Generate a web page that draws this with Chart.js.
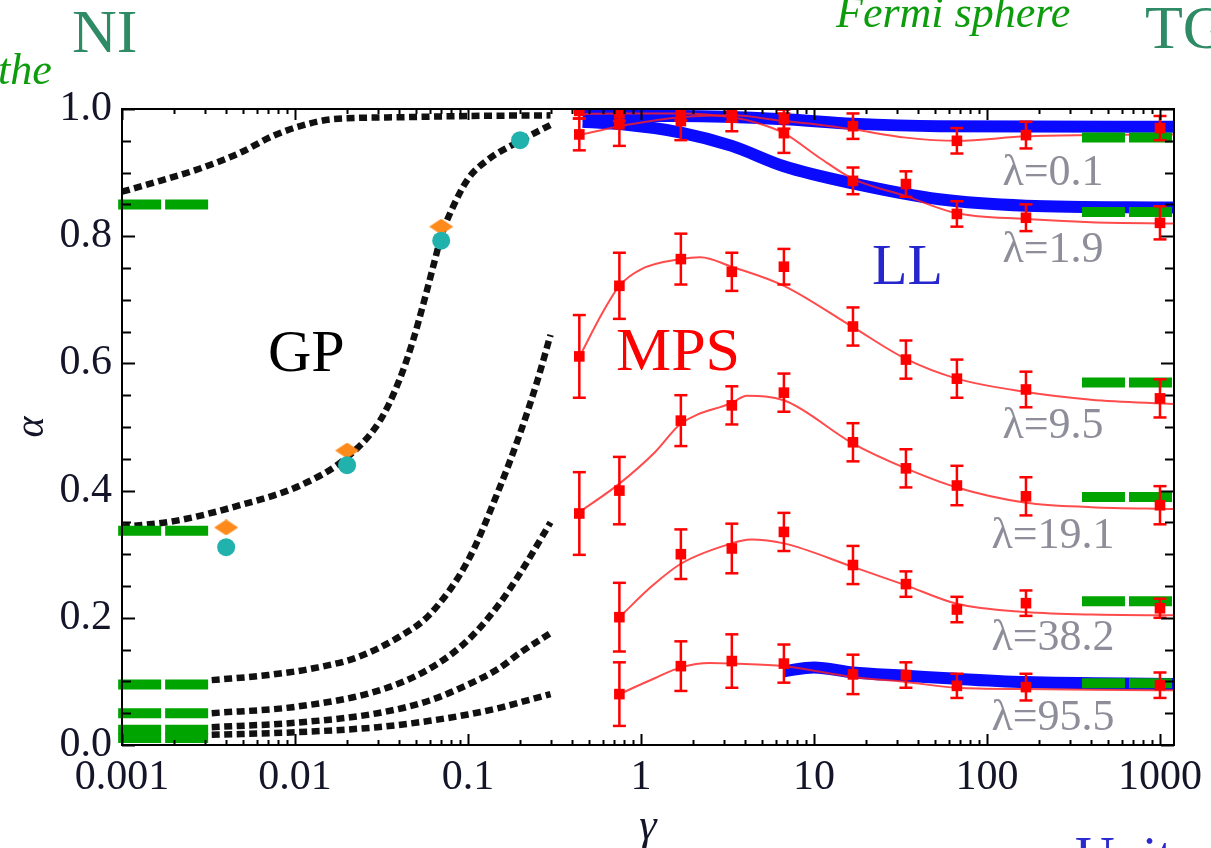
<!DOCTYPE html>
<html>
<head>
<meta charset="utf-8">
<script src="https://cdn.jsdelivr.net/npm/chart.js@4.4.1/dist/chart.umd.min.js"></script>
<style>
  html, body { margin: 0; padding: 0; background: #fff; overflow: hidden; }
  #wrap { width: 1211px; height: 848px; }
</style>
</head>
<body>
<div id="wrap"><canvas id="c" width="1211" height="848"></canvas></div>
<script>
// ---------------- data ----------------
const xTickValues = [0.001, 0.01, 0.1, 1, 10, 100, 1000];
const xTickLabels = ['0.001', '0.01', '0.1', '1', '10', '100', '1000'];
const yTickValues = [0, 0.2, 0.4, 0.6, 0.8, 1.0];

// MPS grid of interaction strengths
const gammaMPS = [0.44, 0.75, 1.7, 3.35, 6.7, 16.8, 34, 67, 168, 1000];
const mps01  = [0.960, 0.976, 0.981, 0.990, 0.984, 0.973, null, 0.950, 0.959, 0.970];
const err01  = [0.025, 0.034, 0.030, 0.025, 0.015, 0.020, null, 0.020, 0.021, 0.019];
const mps19  = [0.997, 0.993, 0.997, 0.995, 0.962, 0.887, 0.882, 0.835, 0.829, 0.821];
const err19  = [0.012, 0.012, 0.015, 0.015, 0.031, 0.021, 0.020, 0.020, 0.021, 0.026];
const mps95  = [0.611, 0.722, 0.764, 0.744, 0.752, 0.658, 0.606, 0.576, 0.559, 0.545];
const err95  = [0.065, 0.052, 0.040, 0.030, 0.028, 0.030, 0.030, 0.030, 0.028, 0.030];
const mps191 = [0.364, 0.400, 0.510, 0.534, 0.554, 0.476, 0.435, 0.408, 0.391, 0.377];
const err191 = [0.065, 0.053, 0.040, 0.030, 0.030, 0.030, 0.030, 0.031, 0.030, 0.030];
const mps382 = [null, 0.201, 0.300, 0.309, 0.335, 0.283, 0.253, 0.213, 0.223, 0.215];
const err382 = [null, 0.054, 0.039, 0.039, 0.030, 0.030, 0.020, 0.020, 0.020, 0.015];
const mps955 = [null, 0.080, 0.124, 0.132, 0.128, 0.111, 0.110, 0.093, 0.091, 0.094];
const err955 = [null, 0.050, 0.039, 0.042, 0.030, 0.031, 0.020, 0.019, 0.021, 0.020];

// smooth fits through the MPS points
const fit01G  = [0.44, 0.75, 1.2, 1.7, 3.35, 6.7, 11, 16.8, 34, 67, 168, 400, 1205];
const fit01A  = [0.959, 0.973, 0.982, 0.987, 0.990, 0.981, 0.975, 0.968, 0.955, 0.950, 0.957, 0.959, 0.960];
const fit19G  = [0.44, 0.75, 1.7, 3.35, 4.7, 6.7, 10.8, 16.8, 34, 67, 168, 400, 1205];
const fit19A  = [0.992, 0.993, 0.993, 0.987, 0.978, 0.962, 0.923, 0.890, 0.863, 0.836, 0.827, 0.822, 0.820];
const fit95G  = [0.44, 0.6, 0.75, 1.0, 1.7, 2.2, 3.35, 6.7, 16.8, 34, 67, 168, 400, 1205];
const fit95A  = [0.610, 0.680, 0.722, 0.748, 0.764, 0.767, 0.752, 0.722, 0.657, 0.607, 0.576, 0.555, 0.543, 0.536];
const fit191G = [0.44, 0.75, 1.2, 1.7, 3.35, 4.1, 6.7, 16.8, 34, 67, 168, 400, 1205];
const fit191A = [0.366, 0.411, 0.460, 0.505, 0.538, 0.549, 0.542, 0.474, 0.435, 0.405, 0.381, 0.374, 0.371];
const fit382G = [0.75, 1.17, 1.7, 3.35, 4.3, 6.7, 16.8, 34, 67, 168, 400, 1205];
const fit382A = [0.201, 0.251, 0.285, 0.317, 0.323, 0.317, 0.280, 0.251, 0.222, 0.209, 0.205, 0.204];
const fit955G = [0.75, 1.2, 1.7, 2.5, 3.35, 6.7, 16.8, 34, 67, 168, 400, 1205];
const fit955A = [0.080, 0.105, 0.122, 0.129, 0.128, 0.124, 0.107, 0.099, 0.090, 0.088, 0.087, 0.086];

// Luttinger liquid curves
const ll01G  = [0.46, 1.7, 6.7, 16.8, 53, 1205];
const ll01A  = [0.989, 0.989, 0.984, 0.977, 0.973, 0.972];
const ll19G  = [0.46, 0.78, 1.7, 3.35, 6.7, 16.8, 53, 168, 1205];
const ll19A  = [0.980, 0.976, 0.963, 0.942, 0.910, 0.883, 0.858, 0.848, 0.845];
const ll955G = [6.7, 10, 16.8, 34, 67, 168, 1205];
const ll955A = [0.116, 0.122, 0.114, 0.109, 0.104, 0.099, 0.096];

// Gross-Pitaevskii curves
const gpAG = [0.001, 0.00166, 0.0028, 0.0048, 0.0075, 0.0107, 0.0166, 0.04, 0.1, 0.3];
const gpAA = [0.870, 0.887, 0.906, 0.931, 0.958, 0.973, 0.984, 0.987, 0.989, 0.990];
const gpBG = [0.001, 0.002, 0.0048, 0.0107, 0.0195, 0.031, 0.04, 0.048, 0.056, 0.064, 0.07, 0.08, 0.1, 0.13, 0.2, 0.3];
const gpBA = [0.343, 0.352, 0.377, 0.408, 0.450, 0.510, 0.573, 0.635, 0.700, 0.760, 0.800, 0.840, 0.890, 0.920, 0.950, 0.975];
const gpCG = [0.0033, 0.007, 0.013, 0.023, 0.04, 0.06, 0.1, 0.15, 0.2, 0.25, 0.3];
const gpCA = [0.102, 0.110, 0.121, 0.138, 0.170, 0.205, 0.290, 0.400, 0.490, 0.570, 0.645];
const gpLowG = [0.0033, 0.01, 0.03, 0.06, 0.1, 0.15, 0.2, 0.3];
const gpDA = [0.050, 0.060, 0.085, 0.120, 0.165, 0.220, 0.270, 0.350];
const gpEA = [0.028, 0.035, 0.050, 0.070, 0.095, 0.120, 0.145, 0.176];
const gpFA = [0.016, 0.020, 0.028, 0.038, 0.048, 0.058, 0.067, 0.080];

// limiting values (weak and strong coupling)
const niRange = [0.00095, 0.0032];
const niLevels = [0.850, 0.337, 0.095, 0.050, 0.024, 0.011];
const tgRange = [354, 1205];
const tgLevels = [0.955, 0.838, 0.570, 0.390, 0.226, 0.097];

// other methods
const diamondG = [0.004, 0.02, 0.07];
const diamondA = [0.342, 0.463, 0.815];
const circleG  = [0.004, 0.02, 0.07, 0.2];
const circleA  = [0.311, 0.440, 0.793, 0.951];

// ---------------- helpers ----------------
const pts = (gs, as) => gs.map((g, i) => ({ x: g, y: as[i] })).filter(p => p.y !== null);
const bars = (gs, as, es) => {
  const out = [];
  gs.forEach((g, i) => {
    if (as[i] === null) return;
    out.push({ x: g, y: as[i] - es[i] }, { x: g, y: as[i] + es[i] }, { x: g, y: null });
  });
  return out;
};

const RED = '#ff0000';
const FIT = 'rgba(255,30,30,0.8)';
const BLUE = '#0a0aff';
const GREEN = '#00a400';

function gpSet(gs, as) {
  return { data: pts(gs, as), borderColor: '#111', borderWidth: 6.5, borderDash: [8, 4.5],
           borderCapStyle: 'butt', cubicInterpolationMode: 'monotone', pointRadius: 0, order: 9 };
}
function llSet(gs, as) {
  return { data: pts(gs, as), borderColor: BLUE, borderWidth: 12, cubicInterpolationMode: 'monotone',
           pointRadius: 0, order: 8, borderCapStyle: 'butt' };
}
function limitSet(range, level) {
  return { data: [{ x: range[0], y: level }, { x: range[1], y: level }], borderColor: GREEN,
           borderWidth: 10, borderDash: [43, 4], borderCapStyle: 'butt', pointRadius: 0, order: 6, clip: 10 };
}
function fitSet(gs, as) {
  return { data: pts(gs, as), borderColor: FIT, borderWidth: 2, cubicInterpolationMode: 'monotone',
           pointRadius: 0, order: 7 };
}
function errSet(as, es) {
  return { data: bars(gammaMPS, as, es), borderColor: RED, borderWidth: 2.5, spanGaps: false,
           pointStyle: 'line', pointRadius: 6.5, pointBorderWidth: 2.5, pointBorderColor: RED,
           pointBackgroundColor: RED, order: 3 };
}
function mpsSet(as) {
  return { data: pts(gammaMPS, as), showLine: false, pointStyle: 'rect', pointRadius: 7.5,
           pointBackgroundColor: RED, pointBorderColor: RED, pointBorderWidth: 0, order: 2 };
}

// flattened diamond marker
const diamond = document.createElement('canvas');
diamond.width = 24; diamond.height = 16;
(() => {
  const g = diamond.getContext('2d');
  g.fillStyle = '#ff8a1c';
  g.beginPath(); g.moveTo(12, 0); g.lineTo(24, 8); g.lineTo(12, 16); g.lineTo(0, 8); g.closePath(); g.fill();
})();

const datasets = [];
[[gpAG, gpAA], [gpBG, gpBA], [gpCG, gpCA], [gpLowG, gpDA], [gpLowG, gpEA], [gpLowG, gpFA]]
  .forEach(([g, a]) => datasets.push(gpSet(g, a)));
[[ll01G, ll01A], [ll19G, ll19A], [ll955G, ll955A]].forEach(([g, a]) => datasets.push(llSet(g, a)));
[[fit01G, fit01A], [fit19G, fit19A], [fit95G, fit95A], [fit191G, fit191A], [fit382G, fit382A], [fit955G, fit955A]]
  .forEach(([g, a]) => datasets.push(fitSet(g, a)));
niLevels.forEach(l => datasets.push(limitSet(niRange, l)));
tgLevels.forEach(l => datasets.push(limitSet(tgRange, l)));
[[mps01, err01], [mps19, err19], [mps95, err95], [mps191, err191], [mps382, err382], [mps955, err955]]
  .forEach(([a, e]) => { datasets.push(errSet(a, e)); datasets.push(mpsSet(a)); });
datasets.push({ data: pts(diamondG, diamondA), showLine: false, pointStyle: diamond, order: 1 });
datasets.push({ data: pts(circleG, circleA), showLine: false, pointStyle: 'circle', pointRadius: 9,
                pointBackgroundColor: '#22b2ad', pointBorderWidth: 0, order: 0 });

// ---------------- annotations ----------------
const SERIF = '"Liberation Serif", "DejaVu Serif", serif';
const notes = [
  { text: 'NI', x: 72, y: 52, size: 62, color: '#2e8b66' },
  { text: 'the', x: -2, y: 84, size: 44, color: '#0c9c0c', italic: true },
  { text: 'Fermi sphere', x: 836, y: 27, size: 44, color: '#0c9c0c', italic: true },
  { text: 'TG', x: 1145, y: 48, size: 62, color: '#2e8b66' },
  { text: 'Unitary', x: 1075, y: 874, size: 55, color: '#2a2ad0' },
  { text: 'GP', x: 268, y: 371, size: 60, color: '#000' },
  { text: 'MPS', x: 616, y: 370, size: 62, color: '#ff0000' },
  { text: 'LL', x: 872, y: 284, size: 58, color: '#2626cc' },
  { text: 'λ=0.1', x: 1053, y: 185, size: 44, color: '#8e8e9a', center: true },
  { text: 'λ=1.9', x: 1053, y: 262, size: 44, color: '#8e8e9a', center: true },
  { text: 'λ=9.5', x: 1053, y: 438, size: 44, color: '#8e8e9a', center: true },
  { text: 'λ=19.1', x: 1053, y: 548, size: 44, color: '#8e8e9a', center: true },
  { text: 'λ=38.2', x: 1053, y: 650, size: 44, color: '#8e8e9a', center: true },
  { text: 'λ=95.5', x: 1053, y: 730, size: 44, color: '#8e8e9a', center: true },
];

// frame with inward ticks on all four sides, plus text notes
const framePlugin = {
  id: 'frame',
  afterDraw(chart) {
    const { ctx, chartArea: a, scales: { x, y } } = chart;
    ctx.save();
    ctx.strokeStyle = '#000';
    ctx.lineWidth = 2;
    ctx.beginPath();
    // x ticks: decades major, 2..9 minor
    for (let d = -4; d <= 4; d++) {
      for (let m = 1; m <= 9; m++) {
        const v = m * Math.pow(10, d);
        if (v < x.min || v > x.max) continue;
        const px = Math.round(x.getPixelForValue(v)) + 0.5;
        const len = m === 1 ? 11 : 5;
        ctx.moveTo(px, a.bottom); ctx.lineTo(px, a.bottom - len);
        ctx.moveTo(px, a.top); ctx.lineTo(px, a.top + len);
      }
    }
    // y ticks: 0.2 major, 0.05 minor
    for (let k = 0; k <= 20; k++) {
      const v = k * 0.05;
      const py = Math.round(y.getPixelForValue(v)) + 0.5;
      const len = k % 4 === 0 ? 13 : 9;
      ctx.moveTo(a.left, py); ctx.lineTo(a.left + len, py);
      ctx.moveTo(a.right, py); ctx.lineTo(a.right - len, py);
    }
    ctx.stroke();
    ctx.strokeRect(a.left, a.top, a.right - a.left, a.bottom - a.top);

    notes.forEach(n => {
      ctx.font = `${n.italic ? 'italic ' : ''}${n.size}px ${SERIF}`;
      ctx.fillStyle = n.color;
      ctx.textBaseline = 'alphabetic';
      ctx.textAlign = n.center ? 'center' : 'left';
      ctx.fillText(n.text, n.x, n.y);
    });
    ctx.restore();
  }
};

const tickFont = { family: SERIF, size: 42 };

new Chart(document.getElementById('c'), {
  type: 'line',
  data: { datasets },
  options: {
    responsive: false,
    animation: false,
    events: [],
    layout: { padding: { top: 109, right: 37, left: 0, bottom: 0 } },
    plugins: { legend: { display: false }, tooltip: { enabled: false } },
    scales: {
      x: {
        type: 'logarithmic',
        min: 0.001, max: 1205,
        afterBuildTicks: s => { s.ticks = xTickValues.map(v => ({ value: v, major: true })); },
        afterFit: s => { s.height = 103; },
        grid: { display: false, drawTicks: false },
        border: { display: false },
        ticks: { font: tickFont, color: '#15152a', padding: 8, autoSkip: false, maxRotation: 0,
                 callback: (v, i) => xTickLabels[i] },
        title: { display: true, text: 'γ', font: { family: SERIF, size: 44, style: 'italic' },
                 color: '#15152a', padding: { top: 0, bottom: -6 } }
      },
      y: {
        min: 0, max: 1,
        afterBuildTicks: s => { s.ticks = yTickValues.map(v => ({ value: v })); },
        afterFit: s => { s.width = 122; },
        grid: { display: false, drawTicks: false },
        border: { display: false },
        ticks: { font: tickFont, color: '#15152a', padding: 10, callback: v => Number(v).toFixed(1) },
        title: { display: true, text: 'α', font: { family: SERIF, size: 40, style: 'italic' },
                 color: '#15152a', padding: { top: 8, bottom: 0 } }
      }
    }
  },
  plugins: [framePlugin]
});
</script>
</body>
</html>
